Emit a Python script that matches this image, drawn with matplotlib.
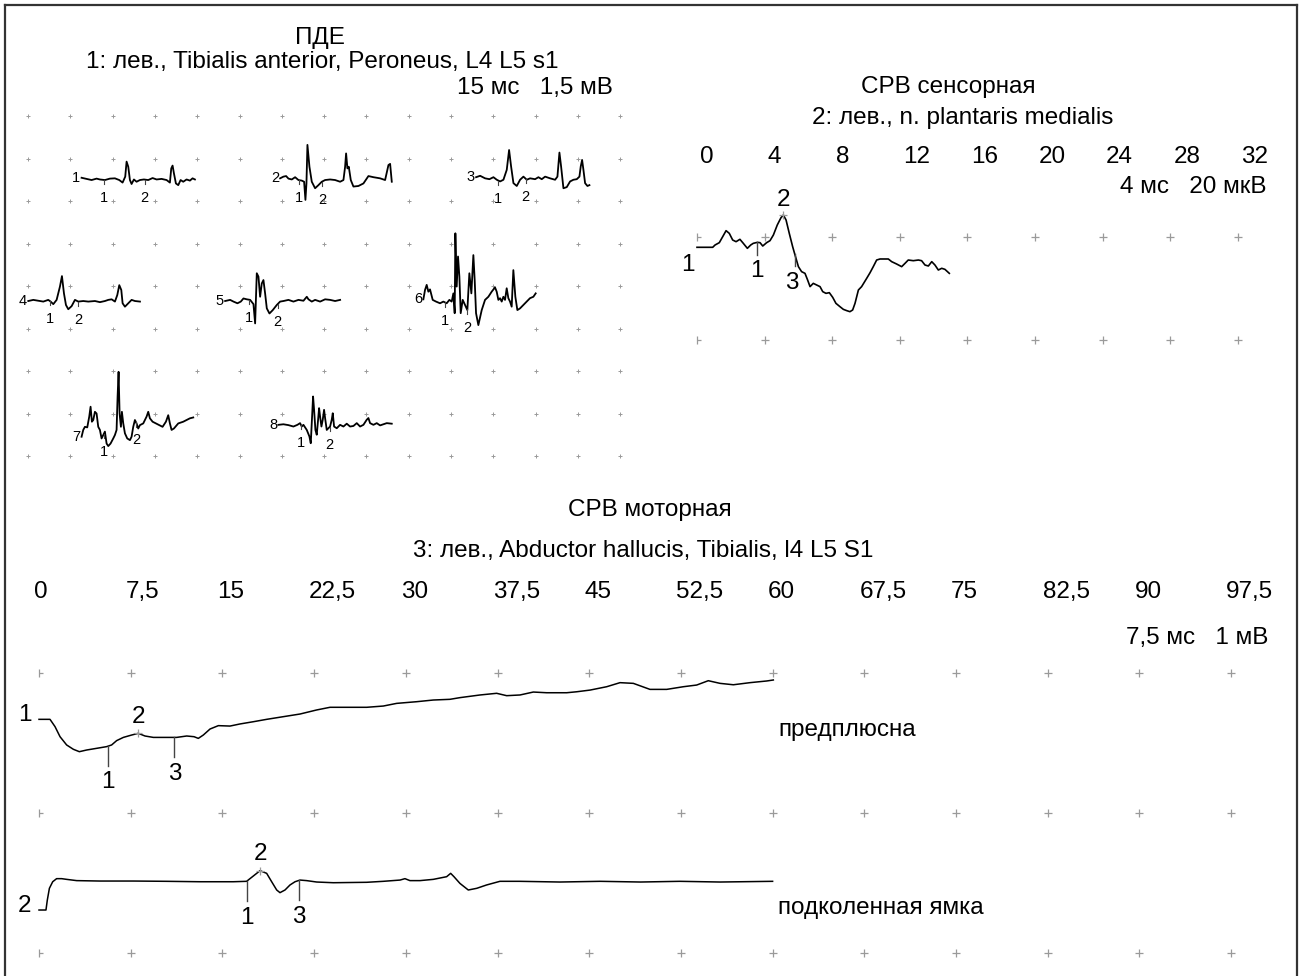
import numpy as np
import matplotlib
matplotlib.use("Agg")
import matplotlib.pyplot as plt
from matplotlib.path import Path
from matplotlib.lines import Line2D

plt.rcParams['font.family'] = ['Liberation Sans', 'DejaVu Sans']

W, H = 1300, 976

# ---------------- data ----------------
# MUAP (ПДЕ) traces: time in ms from start of trace, amplitude in mV
mu1_t = [0, 1.77, 3.55, 5.32, 6.50, 8.27, 10.05, 11.82, 13.36, 14.54, 15.48, 15.96, 16.55, 17.14, 17.73, 18.56,
         19.50, 20.69, 22.10, 23.64, 25.18, 26.60, 28.37, 30.14, 31.32, 31.80, 32.27, 32.74, 33.45, 34.28, 35.11,
         36.05, 37.23, 38.42, 39.36, 40.19]
mu1_mv = [0.02, -0.02, -0.06, -0.01, -0.04, -0.06, -0.01, 0, -0.06, -0.15, 0.06, 0.59, 0.41, -0.06, -0.20, -0.04,
          -0.12, -0.06, -0.04, -0.06, 0.01, -0.04, -0.02, -0.06, -0.15, 0.35, 0.45, 0.18, -0.18, -0.24, -0.06,
          -0.12, -0.04, -0.08, 0, -0.04]
mu2_t = [0, 1.18, 2.13, 2.96, 4.14, 5.32, 6.50, 7.68, 8.51, 8.98, 9.34, 9.69, 10.40, 11.23, 12.41, 13.59, 14.78,
         15.96, 17.73, 19.50, 21.28, 22.46, 23.05, 23.40, 23.87, 24.35, 25.06, 26.00, 27.78, 29.55, 31.32, 33.10,
         35.46, 37.23, 38.42, 39.01, 39.60]
mu2_mv = [0, 0.06, 0.08, -0.01, -0.04, 0.04, -0.06, -0.08, -0.12, -0.76, -0.18, 1.18, 0.41, -0.12, -0.35, -0.24,
          -0.12, -0.06, -0.04, -0.06, -0.12, -0.06, 0.41, 0.88, 0.35, 0.41, -0.06, -0.29, -0.27, -0.18, 0.08, 0.04,
          0, -0.06, 0.47, 0.51, -0.12]
mu3_t = [0, 1.42, 3.19, 4.73, 6.15, 7.33, 8.51, 9.69, 10.87, 11.70, 12.41, 13.24, 14.42, 15.60, 16.78, 17.97,
         19.15, 20.92, 22.10, 23.29, 24.47, 26.24, 28.01, 28.84, 29.55, 30.14, 30.97, 32.15, 33.33, 34.51, 35.70,
         36.64, 37.11, 37.59, 38.06, 38.65, 39.48, 40.19]
mu3_mv = [0, 0.05, -0.04, -0.07, 0, -0.09, -0.15, -0.09, 0.26, 0.96, 0.38, -0.21, -0.31, -0.09, 0.02, -0.09,
          -0.04, -0.07, 0, -0.07, 0.02, -0.04, -0.09, 0.02, 0.87, 0.38, -0.39, -0.35, -0.15, -0.09, -0.07,
          0.02, 0.38, 0.61, 0.26, -0.21, -0.31, -0.28]
mu4_t = [0, 1.77, 3.55, 5.32, 7.09, 7.92, 8.87, 10.05, 11.23, 11.94, 12.65, 13.36, 14.18, 15.37, 16.55, 17.73,
         19.50, 21.28, 23.64, 25.41, 27.19, 28.37, 29.55, 30.73, 31.56, 32.27, 32.98, 33.45, 34.28, 35.46, 36.64,
         37.82, 39.60]
mu4_mv = [0, 0.04, 0.01, -0.02, 0.04, -0.02, -0.11, 0.04, 0.51, 0.88, 0.27, -0.14, -0.29, -0.18, 0.04, -0.02,
          0, -0.02, 0, -0.04, 0, 0.04, 0.06, -0.02, 0.21, 0.56, 0.39, -0.08, -0.20, -0.08, 0.04, 0, -0.02]
mu5_t = [0, 1.77, 2.96, 4.37, 5.56, 6.50, 7.68, 8.87, 10.05, 10.64, 11.23, 11.82, 12.41, 13.00, 13.59, 14.18,
         14.78, 15.72, 16.90, 18.32, 19.50, 20.69, 22.46, 24.23, 26.00, 27.78, 28.96, 29.55, 30.73, 31.91, 33.69,
         35.46, 37.23, 39.01, 40.78]
mu5_mv = [0, 0.04, -0.02, -0.08, -0.02, 0.09, 0.06, 0.04, -0.11, -0.79, 0.98, 0.86, 0.15, 0.62, 0.74, 0.27,
          -0.26, -0.44, -0.32, -0.14, -0.02, 0, 0.04, -0.02, 0.04, 0.01, 0.15, 0.06, -0.02, 0.04, -0.02,
          0.06, 0.04, 0, 0.04]
mu6_t = [0, 0.59, 1.18, 1.77, 2.36, 3.31, 4.49, 5.91, 7.09, 8.27, 9.22, 10.05, 10.64, 11.11, 11.35, 11.82, 12.29,
         12.77, 13.24, 13.95, 14.78, 15.60, 16.31, 17.02, 17.73, 18.20, 18.68, 19.50, 20.69, 21.87, 23.05, 24.23,
         25.41, 26.00, 26.60, 27.19, 27.78, 28.37, 28.96, 29.55, 30.14, 30.73, 31.32, 31.91, 32.62, 33.33, 34.28,
         35.46, 36.64, 37.82, 39.01, 39.83]
mu6_mv = [0, 0.33, 0.51, 0.27, 0.35, -0.02, -0.08, -0.14, -0.08, -0.14, -0.02, -0.08, 0.21, -0.49, 2.33, 0.45,
          1.51, 0.80, -0.49, -0.02, -0.20, -0.38, 0.92, 0.21, 1.56, 0.68, -0.49, -0.91, -0.38, -0.02, 0.09, 0.27,
          0.42, 0.27, -0.02, 0.04, -0.08, 0.09, -0.02, 0.39, 0.04, -0.08, -0.26, 1.03, 0.09, -0.38, -0.32,
          -0.20, -0.08, 0.04, 0.09, 0.21]
mu7_t = [0, 0.59, 1.18, 2.01, 2.72, 3.19, 3.66, 4.14, 4.73, 5.32, 5.91, 6.50, 7.09, 7.68, 8.27, 8.87, 9.46, 10.28,
         11.23, 11.82, 12.41, 12.77, 13.12, 13.48, 13.95, 14.30, 14.78, 15.37, 16.19, 17.14, 17.73, 18.32, 18.91,
         19.50, 20.09, 20.69, 21.87, 23.05, 23.64, 24.23, 25.18, 26.36, 27.54, 28.72, 29.91, 30.73, 31.32, 31.91,
         32.74, 34.28, 36.05, 37.23, 38.42, 39.60]
mu7_mv = [0, 0.24, 0.35, 0.33, 0.71, 1.06, 0.53, 0.59, 0.88, 0.82, 0.35, 0.24, -0.06, 0.06, 0.18, -0.24, -0.33,
          -0.24, -0.06, 0.06, 0.24, 1.41, 2.29, 0.82, 0.35, 0.88, 0.47, 0.12, -0.06, -0.12, 0, 0.35, 0.59, 0.47,
          0.29, 0.41, 0.47, 0.71, 0.88, 0.65, 0.53, 0.47, 0.41, 0.35, 0.53, 0.76, 0.47, 0.24, 0.29, 0.47, 0.53,
          0.59, 0.65, 0.68]
mu8_t = [0, 1.77, 3.55, 5.32, 6.74, 7.68, 8.27, 8.87, 10.05, 10.99, 11.47, 11.94, 12.29, 12.65, 13.12, 13.59,
         14.07, 14.42, 14.78, 15.25, 15.72, 16.19, 16.55, 17.14, 17.73, 18.32, 18.91, 19.27, 19.74, 20.69, 21.87,
         23.05, 24.23, 25.41, 26.60, 27.78, 28.96, 30.14, 31.32, 31.91, 32.50, 33.69, 34.87, 36.05, 37.23, 38.42,
         40.19]
mu8_mv = [0, 0.02, -0.01, -0.06, 0, 0.06, -0.06, 0, -0.18, -0.41, -0.65, 0.29, 1.00, 0.53, -0.18, -0.35, 0.18,
          0.59, 0.29, -0.06, 0.18, 0.53, 0.24, -0.18, -0.12, -0.06, 0.18, 0.41, -0.06, -0.12, 0, -0.06, 0.04,
          -0.06, -0.04, 0.06, -0.06, 0, 0.18, 0.24, 0.06, 0, 0.06, -0.02, 0.02, 0.06, 0.04]
# cursor times (1, 2) of each MUAP, ms
muap_marks = [(7.9, 22.4), (6.8, 14.9), (7.9, 17.6), (7.6, 17.7), (8.3, 18.6), (7.7, 15.5), (7.9, 19.3), (8.0, 18.2)]

# sensory response, ms / uV
sens_t = [0, 0.93, 1.07, 1.32, 1.52, 1.72, 1.91, 2.11, 2.31, 2.54, 2.74, 2.98, 3.18, 3.33, 3.57, 3.73, 3.89, 4.12,
          4.32, 4.52, 4.75, 4.97, 5.11, 5.27, 5.46, 5.66, 5.80, 6.00, 6.19, 6.39, 6.53, 6.69, 6.88, 7.08, 7.28,
          7.44, 7.63, 7.83, 8.03, 8.22, 8.46, 8.66, 8.86, 9.05, 9.21, 9.35, 9.55, 9.74, 10.04, 10.24, 10.43,
          10.63, 10.83, 11.32, 11.52, 11.81, 12.11, 12.31, 12.50, 12.80, 13.10, 13.29, 13.49, 13.69, 13.89,
          14.08, 14.28, 14.48, 14.67, 14.93]
sens_uv = [-2.0, -2.0, -1.55, -1.10, 0.06, 1.23, 0.71, -0.58, -0.91, -0.45, -1.23, -2.20, -1.55, -1.23, -1.04,
           -1.10, -1.75, -1.10, -0.71, 0.39, 2.33, 3.75, 4.27, 3.30, 0.71, -1.88, -3.50, -5.76, -6.73, -7.06,
           -8.22, -9.64, -9.00, -9.32, -9.64, -10.61, -10.94, -10.81, -11.72, -12.88, -13.53, -14.05, -14.30,
           -14.50, -14.17, -12.88, -10.29, -9.64, -8.03, -6.93, -5.76, -4.47, -4.27, -4.27, -4.79, -5.24, -5.76,
           -5.11, -4.47, -4.60, -4.47, -4.60, -5.44, -5.63, -4.79, -5.44, -6.41, -6.08, -6.28, -7.06]
sens_marks = [3.57, 5.11, 5.78]
sens_ticks = [0, 4, 8, 12, 16, 20, 24, 28, 32]

# motor responses, ms / mV relative to trace start
m1_t = [0, 0.90, 1.31, 1.72, 2.26, 2.81, 3.30, 3.90, 4.72, 5.53, 5.94, 6.35, 6.90, 7.58, 8.12, 8.67, 9.35, 10.44,
        11.26, 12.08, 12.68, 13.03, 13.44, 13.99, 14.67, 15.62, 16.44, 17.53, 18.62, 19.98, 21.35, 22.71, 23.80,
        25.44, 26.80, 28.16, 29.25, 30.89, 32.25, 33.61, 34.43, 36.07, 37.43, 38.25, 39.34, 40.43, 41.52, 43.16,
        43.98, 45.07, 46.43, 47.52, 48.61, 49.97, 51.34, 52.70, 53.79, 54.74, 55.70, 56.79, 58.15, 59.52, 60.06]
m1_mv = [0, 0, -0.052, -0.124, -0.183, -0.214, -0.231, -0.219, -0.207, -0.195, -0.183, -0.152, -0.129, -0.112,
         -0.100, -0.119, -0.129, -0.129, -0.129, -0.119, -0.124, -0.136, -0.112, -0.069, -0.045, -0.048, -0.033,
         -0.017, 0, 0.019, 0.038, 0.067, 0.086, 0.086, 0.086, 0.095, 0.114, 0.126, 0.138, 0.143, 0.155, 0.174,
         0.186, 0.169, 0.174, 0.195, 0.190, 0.190, 0.197, 0.209, 0.233, 0.262, 0.257, 0.214, 0.214, 0.233, 0.245,
         0.276, 0.257, 0.247, 0.262, 0.274, 0.281]
m2_t = [0, 0.57, 0.68, 0.85, 1.12, 1.44, 1.85, 2.26, 3.08, 4.99, 7.72, 10.44, 13.17, 15.89, 16.98, 17.53, 18.08,
        18.62, 19.03, 19.44, 19.71, 20.12, 20.53, 20.94, 21.35, 21.89, 22.71, 24.07, 26.80, 28.16, 29.53, 29.93,
        30.34, 31.16, 32.25, 33.34, 33.67, 33.94, 34.43, 35.11, 35.80, 36.61, 37.70, 39.3, 42.6, 45.9, 49.2,
        52.4, 55.7, 60.0]
m2_mv = [0, 0, 0.071, 0.155, 0.202, 0.224, 0.224, 0.219, 0.210, 0.207, 0.207, 0.205, 0.202, 0.202, 0.205, 0.243,
         0.281, 0.262, 0.202, 0.143, 0.124, 0.143, 0.179, 0.202, 0.214, 0.210, 0.200, 0.195, 0.198, 0.205, 0.214,
         0.224, 0.210, 0.210, 0.219, 0.238, 0.262, 0.238, 0.190, 0.143, 0.155, 0.179, 0.205, 0.205, 0.200, 0.205,
         0.200, 0.205, 0.200, 0.205]
motor_marks = [(5.67, 8.12, 11.07), (16.98, 18.08, 21.27)]
motor_sites = ["предплюсна", "подколенная ямка"]
motor_ticks = [0, 7.5, 15, 22.5, 30, 37.5, 45, 52.5, 60, 67.5, 75, 82.5, 90, 97.5]

# ---------------- layout ----------------
BIG = 17.5
SMALL = 10.5
GRID = '#9a9a9a'

fig = plt.figure(figsize=(13, 9.76), dpi=100)


def panel_axes(box, origin, scale):
    # box / origin in pixels, scale in pixels per data unit
    left, top, right, bottom = box
    x0, y0 = origin
    sx, sy = scale
    ax = fig.add_axes([left / W, 1 - bottom / H, (right - left) / W, (bottom - top) / H])
    ax.set_xlim((left - x0) / sx, (right - x0) / sx)
    ax.set_ylim((y0 - bottom) / sy, (y0 - top) / sy)
    ax.axis('off')
    return ax


def ftext(x, y, s, **kw):
    fig.text(x / W, 1 - y / H, s, va='center', fontsize=kw.pop('fontsize', BIG), **kw)


# left "|-" marker for the first grid column
first_col = Path([(0, -1), (0, 1), (0, 0), (1, 0)],
                 [Path.MOVETO, Path.LINETO, Path.MOVETO, Path.LINETO])

# frame
for xs, ys in [([5, 5], [5, 980]), ([5, 1297], [5, 5]), ([1297, 1297], [5, 980])]:
    fig.add_artist(Line2D([x / W for x in xs], [1 - y / H for y in ys], color='#333333', lw=1.6,
                          transform=fig.transFigure))

# ---- MUAP panel ----
ax1 = panel_axes((8, 20, 650, 470), (28, 116), (42.3 / 15, 42.5 / 1.5))
gx, gy = np.meshgrid(np.arange(15) * 15.0, -np.arange(9) * 1.5)
ax1.plot(gx.ravel(), gy.ravel(), ls='none', marker='+', ms=3.5, mew=0.7, color=GRID)

muaps = [(mu1_t, mu1_mv), (mu2_t, mu2_mv), (mu3_t, mu3_mv), (mu4_t, mu4_mv),
         (mu5_t, mu5_mv), (mu6_t, mu6_mv), (mu7_t, mu7_mv), (mu8_t, mu8_mv)]
muap_pos = [(19.0, -2.20), (89.4, -2.20), (158.9, -2.16), (0.1, -6.53),
            (69.9, -6.53), (140.2, -6.47), (19.0, -11.32), (88.8, -10.90)]
for k, (t, v) in enumerate(muaps):
    ox, oy = muap_pos[k]
    t = np.array(t)
    v = np.array(v)
    ax1.plot(ox + t, oy + v, color='black', lw=1.3)
    ax1.text(ox - 0.4, oy, str(k + 1), ha='right', va='center', fontsize=SMALL)
    for j, tm in enumerate(muap_marks[k]):
        vm = np.interp(tm, t, v)
        ax1.plot([ox + tm, ox + tm], [oy + vm, oy + vm - 0.15], color='#444444', lw=0.8)
        ax1.text(ox + tm, oy + vm - 0.64, str(j + 1), ha='center', va='center', fontsize=SMALL)

ftext(320, 38, 'ПДЕ', ha='center')
ftext(322, 62, '1: лев., Tibialis anterior, Peroneus, L4 L5 s1', ha='center')
ftext(613, 88, '15 мс   1,5 мВ', ha='right')

# ---- sensory panel ----
ax2 = panel_axes((655, 130, 1295, 370), (697, 237), (67.6 / 4, 103 / 20))
sx_, sy_ = np.meshgrid(sens_ticks, [0, -20])
ax2.plot(sx_[:, 1:].ravel(), sy_[:, 1:].ravel(), ls='none', marker='+', ms=6, mew=0.9, color=GRID)
ax2.plot(sx_[:, 0], sy_[:, 0], ls='none', marker=first_col, ms=6, mew=0.9, color=GRID)
ax2.plot(sens_t, sens_uv, color='black', lw=1.2)
ax2.text(-0.53, -5.4, '1', ha='center', va='center', fontsize=BIG)
for j, tm in enumerate(sens_marks):
    vm = np.interp(tm, sens_t, sens_uv)
    if j == 1:
        ax2.plot([tm], [vm], ls='none', marker='+', ms=6, mew=0.9, color=GRID)
        ax2.text(tm, vm + 3.0, '2', ha='center', va='center', fontsize=BIG)
    else:
        ax2.plot([tm, tm], [vm, vm - 2.4], color='#444444', lw=1.0)
        ax2.text(tm - (0.18 if j == 2 else 0), vm - 5.6, str(j + 1), ha='center', va='center', fontsize=BIG)
for v in sens_ticks:
    ax2.text(v + 0.2, (237 - 157) / 5.15, str(v), ha='left', va='center', fontsize=BIG)

ftext(948, 87, 'СРВ сенсорная', ha='center')
ftext(963, 118, '2: лев., n. plantaris medialis', ha='center')
ftext(1267, 187, '4 мс   20 мкВ', ha='right')

# ---- motor panel ----
ax3 = panel_axes((8, 570, 1295, 975), (39, 673), (91.7 / 7.5, 140))
mx_, my_ = np.meshgrid(motor_ticks, [0, -1, -2])
ax3.plot(mx_[:, 1:].ravel(), my_[:, 1:].ravel(), ls='none', marker='+', ms=6, mew=0.9, color=GRID)
ax3.plot(mx_[:, 0], my_[:, 0], ls='none', marker=first_col, ms=6, mew=0.9, color=GRID)

motor = [(m1_t, m1_mv), (m2_t, m2_mv)]
motor_base = [-0.331, -1.693]
for k, (t, v) in enumerate(motor):
    base = motor_base[k]
    v = np.array(v) + base
    ax3.plot(t, v, color='black', lw=1.1)
    ax3.text(-1.15, base + 0.03, str(k + 1), ha='center', va='center', fontsize=BIG)
    for j, tm in enumerate(motor_marks[k]):
        vm = np.interp(tm, t, v)
        if j == 1:
            ax3.plot([tm], [vm], ls='none', marker='+', ms=6, mew=0.9, color=GRID)
            ax3.text(tm, vm + 0.12, '2', ha='center', va='center', fontsize=BIG)
        else:
            ax3.plot([tm, tm], [vm, vm - 0.14], color='#444444', lw=1.0)
            ax3.text(tm, vm - 0.26, str(j + 1), ha='center', va='center', fontsize=BIG)
    ax3.text(60.44, base - (0.076 if k == 0 else -0.014), motor_sites[k], ha='left', va='center', fontsize=BIG)
for v in motor_ticks:
    lab = ('%g' % v).replace('.', ',')
    ax3.text(v - 0.4, (673 - 592) / 140, lab, ha='left', va='center', fontsize=BIG)

ftext(650, 510, 'СРВ моторная', ha='center')
ftext(643, 551, '3: лев., Abductor hallucis, Tibialis, l4 L5 S1', ha='center')
ftext(1268, 638, '7,5 мс   1 мВ', ha='right')

fig.savefig('out.png', dpi=100)
